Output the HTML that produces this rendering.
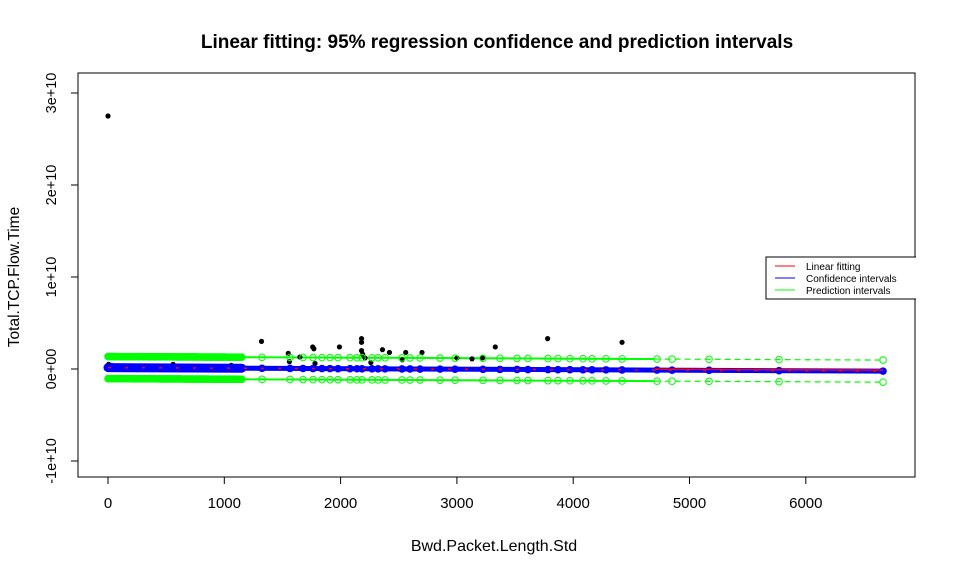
<!DOCTYPE html>
<html><head><meta charset="utf-8"><style>
body{margin:0;background:#fff}
svg{display:block;font-family:"Liberation Sans",Arial,sans-serif}
</style></head><body>
<svg id="chart" width="955" height="574" viewBox="0 0 955 574">
<rect width="955" height="574" fill="#fff"/>
<text x="497" y="48" text-anchor="middle" font-size="19" font-weight="bold">Linear fitting: 95% regression confidence and prediction intervals</text>
<text x="494" y="551" text-anchor="middle" font-size="16">Bwd.Packet.Length.Std</text>
<text transform="translate(19,277) rotate(-90)" text-anchor="middle" font-size="15.5">Total.TCP.Flow.Time</text>
<g id="axes"></g>
<g id="marks"></g>
<rect x="78" y="73" width="837" height="404" fill="none" stroke="#000"/>
<g>
<rect x="766" y="257" width="160" height="42" fill="#fff" stroke="#000"/>
<line x1="775" y1="266" x2="795" y2="266" stroke="red"/>
<line x1="775" y1="278" x2="795" y2="278" stroke="blue"/>
<line x1="775" y1="290" x2="795" y2="290" stroke="#00ff00"/>
<text x="806" y="270" font-size="10">Linear fitting</text>
<text x="806" y="282" font-size="10">Confidence intervals</text>
<text x="806" y="294" font-size="10">Prediction intervals</text>
</g>
<rect x="916" y="250" width="39" height="60" fill="#fff"/>
</svg>
<script>
const xTicks=[0,1000,2000,3000,4000,5000,6000];
const yTicks=[-1e10,0,1e10,2e10,3e10];
const yTickLabels=["-1e+10","0e+00","1e+10","2e+10","3e+10"];
const fitIntercept=1.5e8;
const fitSlope=-5.7e4;
const piHalf=1.2e9;
const ciHalf=2e8;
const denseStart=0;
const denseEnd=1150;
const xValues=[0,10,20,30,40,50,60,70,80,90,100,110,120,130,140,150,160,170,180,190,200,210,220,230,240,250,260,270,280,290,300,310,320,330,340,350,360,370,380,390,400,410,420,430,440,450,460,470,480,490,500,510,520,530,540,550,560,570,580,590,600,610,620,630,640,650,660,670,680,690,700,710,720,730,740,750,760,770,780,790,800,810,820,830,840,850,860,870,880,890,900,910,920,930,940,950,960,970,980,990,1000,1010,1020,1030,1040,1050,1060,1070,1080,1090,1100,1110,1120,1130,1140,1150,
1324,1565,1677,1763,1840,1909,1978,2081,2141,2184,2270,2322,2382,2528,2597,2683,2855,2984,3224,3370,3517,3611,3783,3869,3972,4084,4162,4282,4420,4721,4850,5168,5770,6664];
const ptX=[0,5,30,60,100,130,560,1060,1320,1550,1560,1760,1770,1780,1990,2180,2180,2180,2190,2210,2360,2420,2560,2700,3000,3220,3330,3780,4420,3130,2530,1650,2260];
const ptY=[2.75e10,5e8,4e8,3e8,3e8,2e8,5e8,4e8,3.0e9,1.7e9,8e8,2.4e9,2.2e9,6e8,2.4e9,3.3e9,2.9e9,2.0e9,1.6e9,1.2e9,2.1e9,1.8e9,1.8e9,1.8e9,1.2e9,1.2e9,2.4e9,3.3e9,2.9e9,1.1e9,1.0e9,1.3e9,7e8];
const NS="http://www.w3.org/2000/svg";
const sx=v=>108+v*0.1163;
const sy=v=>369-v*9.2e-9;
const fit=x=>fitIntercept+fitSlope*x;
function mk(tag,attrs,parent){const e=document.createElementNS(NS,tag);for(const k in attrs)e.setAttribute(k,attrs[k]);parent.appendChild(e);return e;}
const axes=document.getElementById('axes');
const marks=document.getElementById('marks');
const xl=mk('line',{x1:sx(0),x2:sx(6000),y1:477,y2:477,stroke:'#000'},axes);


xTicks.forEach(t=>{
  const l=mk('line',{x1:sx(t),x2:sx(t),y1:477,y2:484,stroke:'#000'},axes);
  
  
  const tx=mk('text',{x:sx(t),y:508,'text-anchor':'middle','font-size':15},axes);
  tx.textContent=t;
  
  
});
const yl=mk('line',{x1:78,x2:78,y1:sy(-1e10),y2:sy(3e10),stroke:'#000'},axes);


yTicks.forEach((t,i)=>{
  const l=mk('line',{x1:71,x2:78,y1:sy(t),y2:sy(t),stroke:'#000'},axes);
  
  
  const tx=mk('text',{transform:`translate(56,${sy(t)}) rotate(-90)`,'text-anchor':'middle','font-size':14.5},axes);
  tx.textContent=yTickLabels[i];
  
  
});
const xmax=xValues[xValues.length-1];
[piHalf,-piHalf].forEach(h=>{
  const l=mk('line',{x1:sx(0),x2:sx(4700),y1:sy(fit(0)+h),y2:sy(fit(4700)+h),stroke:'#00ff00','stroke-width':2},marks);
  
  
  const d=mk('line',{x1:sx(4700),x2:sx(xmax),y1:sy(fit(4700)+h),y2:sy(fit(xmax)+h),stroke:'#00ff00','stroke-width':1.2,'stroke-dasharray':'6,4'},marks);
  
  
  const b=mk('line',{x1:sx(denseStart),x2:sx(denseEnd),y1:sy(fit(denseStart)+h),y2:sy(fit(denseEnd)+h),stroke:'#00ff00','stroke-width':7,'stroke-linecap':'round'},marks);
  
  
});
ptX.forEach((x,i)=>{
  const c=mk('circle',{cx:sx(x),cy:sy(ptY[i]),r:2.6,fill:'#000'},marks);
  
  
});
xValues.forEach(x=>{
  [piHalf,-piHalf].forEach(h=>{
    const c=mk('circle',{cx:sx(x),cy:sy(fit(x)+h),r:3.3,fill:'none',stroke:'#00ff00','stroke-width':1},marks);
    
    
  });
});
const band=mk('line',{x1:sx(0),x2:sx(xmax),y1:sy(fit(0)),y2:sy(fit(xmax)),stroke:'blue','stroke-width':5},marks);


const dband=mk('line',{x1:sx(denseStart),x2:sx(denseEnd),y1:sy(fit(denseStart)),y2:sy(fit(denseEnd)),stroke:'blue','stroke-width':9,'stroke-linecap':'round'},marks);


xValues.forEach(x=>{
  const c=mk('circle',{cx:sx(x),cy:sy(fit(x)),r:3.8,fill:'blue'},marks);
  
  
});
const fl=mk('line',{x1:sx(0),x2:sx(xmax),y1:sy(fit(0)),y2:sy(fit(xmax)),stroke:'red','stroke-width':1.5,'stroke-dasharray':'3,14'},marks);


const fl2=mk('line',{x1:sx(4700),x2:sx(xmax),y1:sy(fit(4700))-1,y2:sy(fit(xmax))-1,stroke:'red','stroke-width':1.5},marks);


</script>
</body></html>
